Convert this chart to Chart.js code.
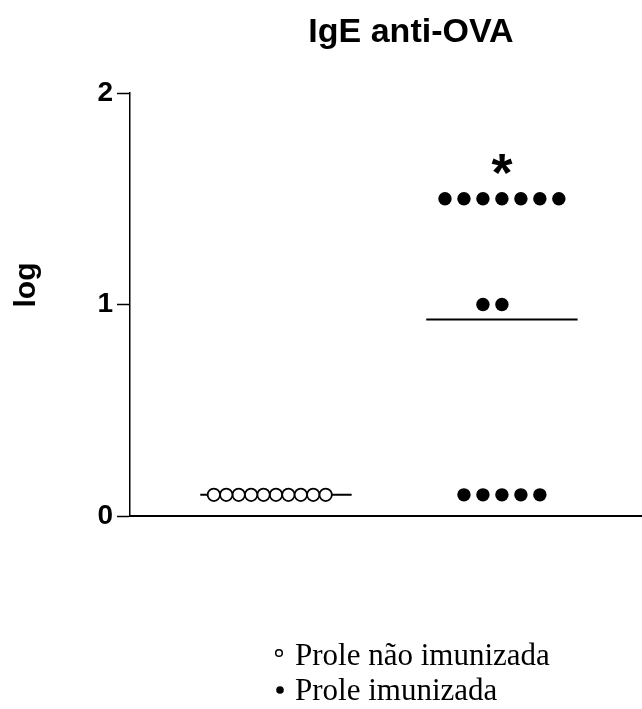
<!DOCTYPE html>
<html>
<head>
<meta charset="utf-8">
<script src="https://cdn.jsdelivr.net/npm/chart.js@4/dist/chart.umd.min.js"></script>
<style>
  body { margin: 0; background: #fff; }
</style>
</head>
<body>
<canvas id="chart1" width="642" height="709"></canvas>
<script>
// data
const groups = ['Prole não imunizada', 'Prole imunizada'];
const naoImunizada = [0.1, 0.1, 0.1, 0.1, 0.1, 0.1, 0.1, 0.1, 0.1, 0.1];
const imunizada = [1.5, 1.5, 1.5, 1.5, 1.5, 1.5, 1.5, 1.0, 1.0, 0.1, 0.1, 0.1, 0.1, 0.1];
const yTicks = [0, 1, 2];
const title = 'IgE anti-OVA';
const yTitle = 'log';

const SANS = '"Liberation Sans", Arial, sans-serif';
const SERIF = '"Liberation Serif", "Times New Roman", serif';

// column scatter: equal values side by side (0, -1, +1, -2, +2 ...)
function spread(values, center, step) {
    const seen = {};
    return values.map(v => {
        const k = seen[v] || 0;
        seen[v] = k + 1;
        const off = k % 2 ? -(k + 1) / 2 : k / 2;
        return { x: center + off * step, y: v };
    });
}

function mean(a) {
    return a.reduce((s, v) => s + v, 0) / a.length;
}

function meanLine(values, center) {
    const m = mean(values);
    return [{ x: center - 0.335, y: m }, { x: center + 0.335, y: m }];
}

const textPlugin = {
    id: 'texts',
    afterDraw(chart) {
        const c = chart.ctx;
        const xs = chart.scales.x, ys = chart.scales.y;
        c.save();
        c.fillStyle = '#000';

        c.font = 'bold 34px ' + SANS;
        c.textAlign = 'center';
        c.textBaseline = 'middle';
        c.fillText(title, 411, 33);

        c.save();
        c.translate(27, 285);
        c.rotate(-Math.PI / 2);
        c.font = 'bold 30px ' + SANS;
        c.fillText(yTitle, 0, 0);
        c.restore();

        // significance mark over the immunised group
        c.font = 'bold 54px ' + SANS;
        c.textBaseline = 'alphabetic';
        c.fillText('*', xs.getPixelForValue(2), ys.getPixelForValue(Math.max(...imunizada)) - 8);

        // legend
        c.textAlign = 'left';
        c.font = '31px ' + SERIF;
        c.fillText(groups[0], 295, 665);
        c.fillText(groups[1], 295, 700);
        c.lineWidth = 1.5;
        c.beginPath();
        c.arc(279, 653, 3.3, 0, Math.PI * 2);
        c.stroke();
        c.beginPath();
        c.arc(280, 690, 3.8, 0, Math.PI * 2);
        c.fill();
        c.restore();
    }
};

const chart1 = new Chart(document.getElementById('chart1'), {
    type: 'scatter',
    data: {
        datasets: [
            {
                label: 'mean ' + groups[0],
                data: meanLine(naoImunizada, 1),
                showLine: true,
                borderColor: '#000',
                borderWidth: 2,
                pointRadius: 0,
                order: 2
            },
            {
                label: 'mean ' + groups[1],
                data: meanLine(imunizada, 2),
                showLine: true,
                borderColor: '#000',
                borderWidth: 2,
                pointRadius: 0,
                order: 2
            },
            {
                label: groups[0],
                data: spread(naoImunizada, 1, 0.055),
                pointRadius: 6.2,
                pointBackgroundColor: '#fff',
                pointBorderColor: '#000',
                pointBorderWidth: 1.8,
                order: 1
            },
            {
                label: groups[1],
                data: spread(imunizada, 2, 0.084),
                pointRadius: 6.7,
                pointBackgroundColor: '#000',
                pointBorderColor: '#000',
                pointBorderWidth: 0,
                order: 1
            }
        ]
    },
    options: {
        responsive: false,
        animation: false,
        devicePixelRatio: 1,
        layout: {
            autoPadding: false,
            padding: { top: 93, bottom: 193, left: 0, right: 0 }
        },
        scales: {
            x: {
                type: 'linear',
                min: 0.354,
                max: 2.62,
                ticks: { display: false },
                grid: { display: false },
                border: { display: true, color: '#000', width: 2 },
                afterFit: s => { s.height = 0; }
            },
            y: {
                min: 0,
                max: 2,
                afterBuildTicks: s => { s.ticks = yTicks.map(v => ({ value: v })); },
                ticks: {
                    color: '#000',
                    padding: 4,
                    font: { family: SANS, size: 28, weight: 'bold' }
                },
                grid: {
                    drawOnChartArea: false,
                    tickLength: 13,
                    tickColor: '#000',
                    tickWidth: 1.5
                },
                border: { display: true, color: '#000', width: 1.5 },
                afterFit: s => { s.width = 130; }
            }
        },
        plugins: {
            legend: { display: false },
            tooltip: { enabled: false }
        }
    },
    plugins: [textPlugin]
});
</script>
</body>
</html>
